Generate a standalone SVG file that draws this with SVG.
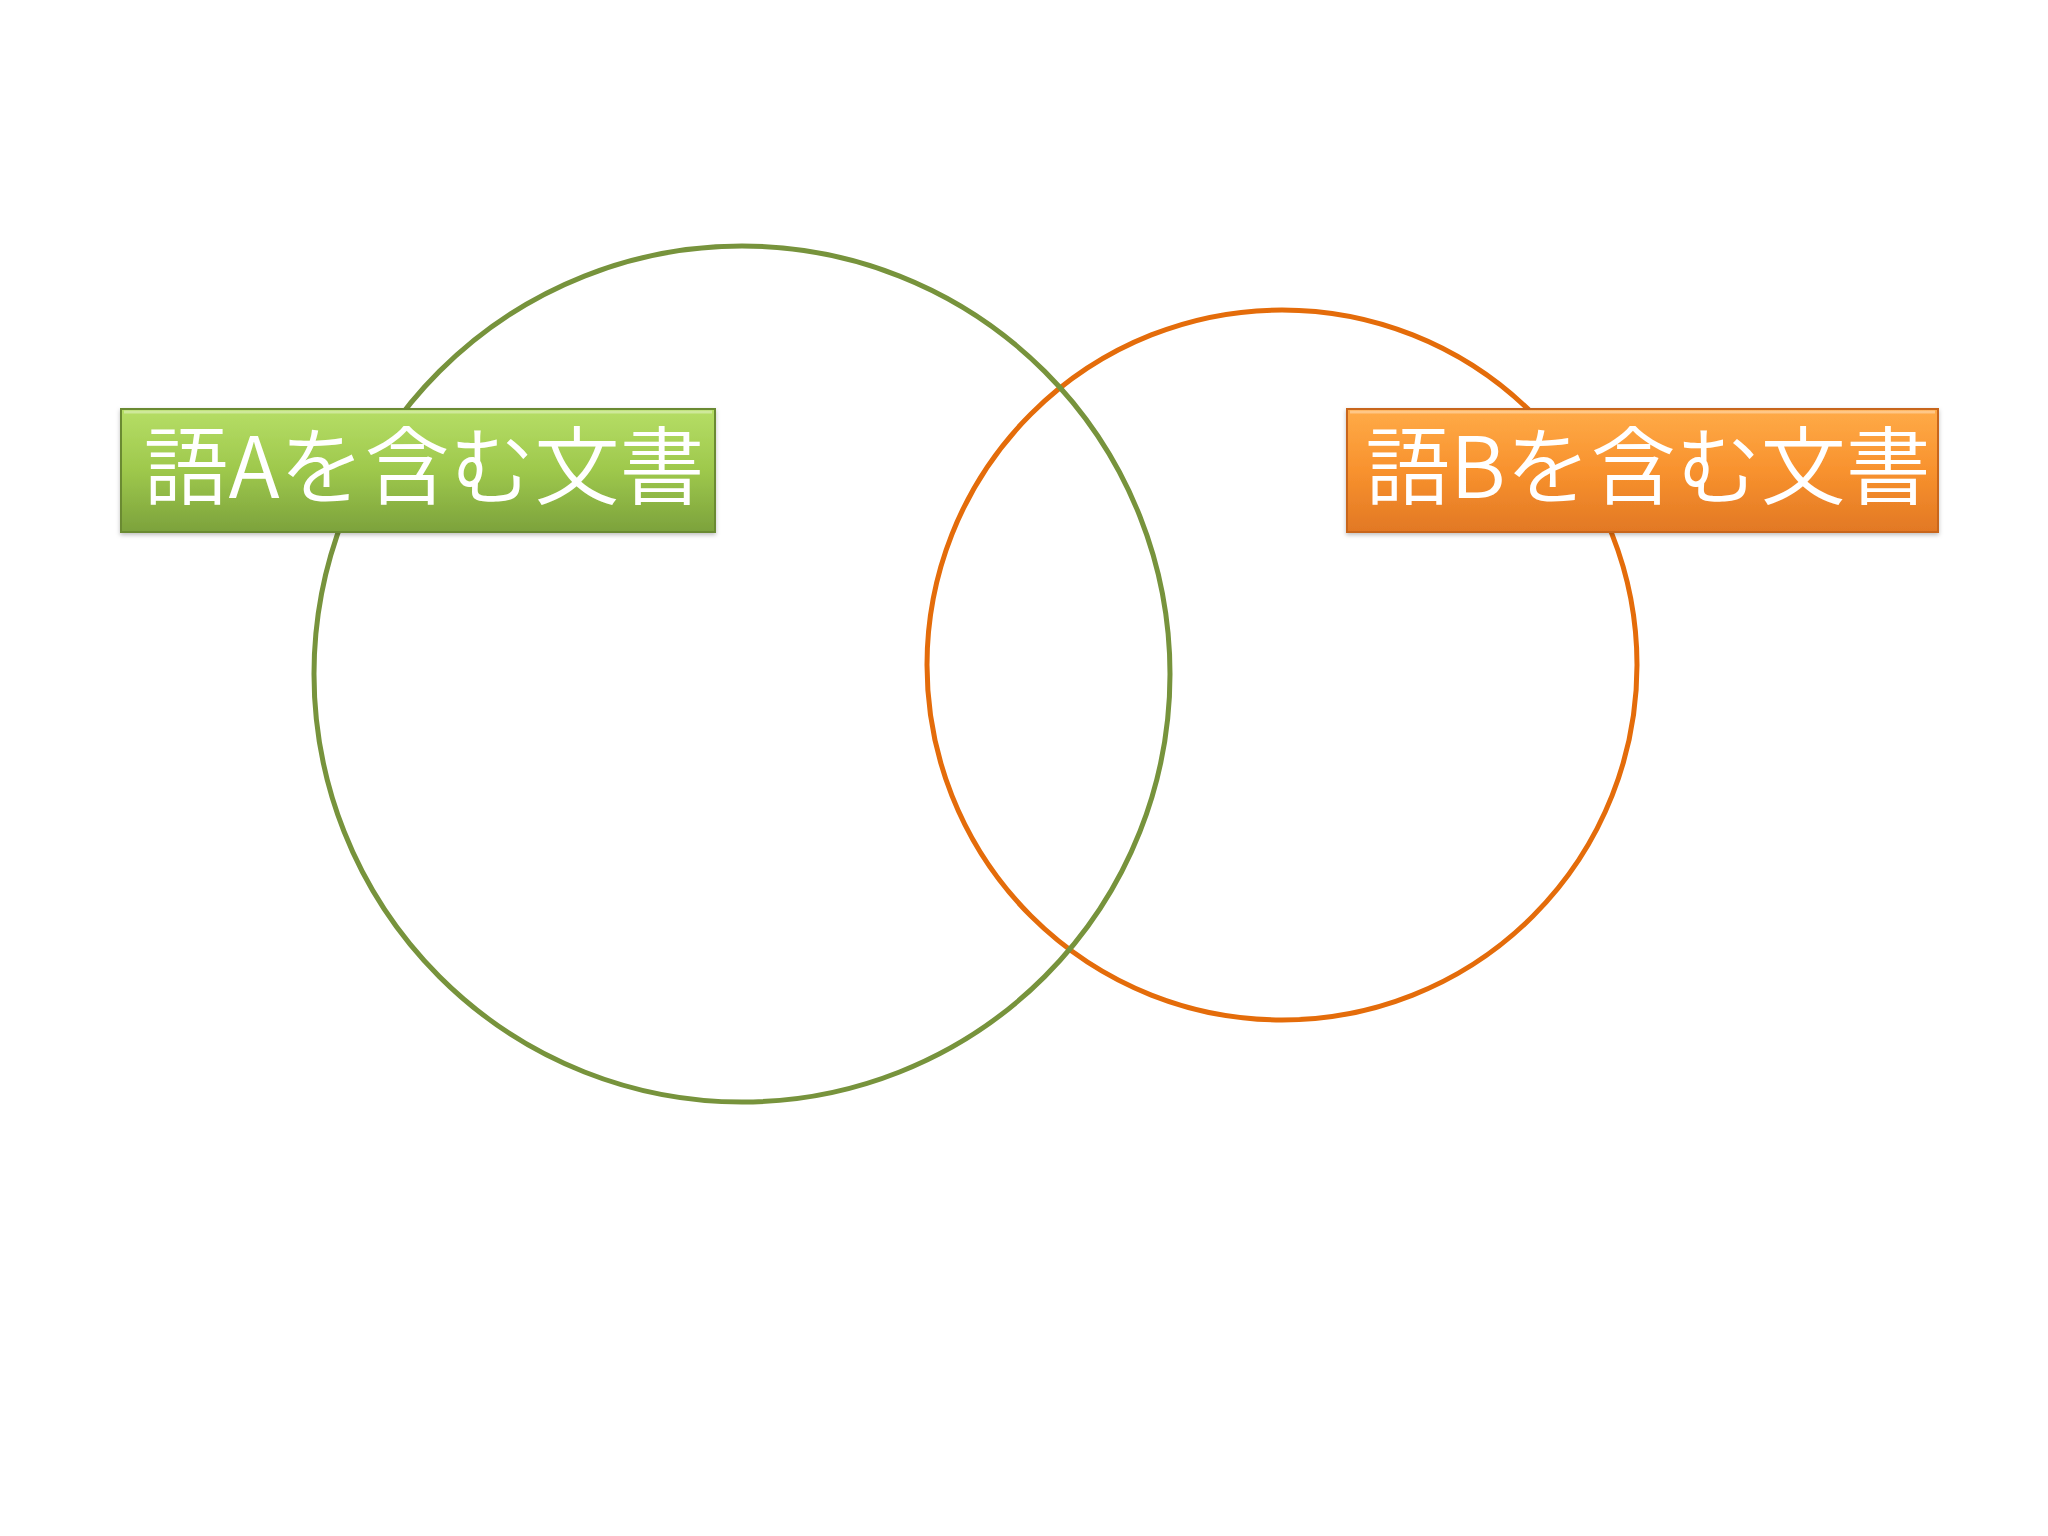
<svg xmlns="http://www.w3.org/2000/svg" width="2048" height="1536" viewBox="0 0 2048 1536">
  <defs>
    <linearGradient id="gGreen" x1="0" y1="0" x2="0" y2="1">
      <stop offset="0" stop-color="#b6de66"/>
      <stop offset="0.5" stop-color="#9ec84c"/>
      <stop offset="1" stop-color="#7ca23c"/>
    </linearGradient>
    <linearGradient id="gOrange" x1="0" y1="0" x2="0" y2="1">
      <stop offset="0" stop-color="#ffab48"/>
      <stop offset="0.5" stop-color="#f8922e"/>
      <stop offset="1" stop-color="#e27824"/>
    </linearGradient>
    <filter id="shadow" x="-5%" y="-10%" width="110%" height="130%">
      <feDropShadow dx="0" dy="2" stdDeviation="2" flood-color="#000" flood-opacity="0.25"/>
    </filter>
    <style>
      .ring { fill: none; stroke-width: 5; }
      .label { font-family: "Noto Sans CJK JP", "Noto Sans", sans-serif; font-weight: 350; font-size: 85px; fill: #ffffff; text-anchor: middle; }
      .bevel { fill: none; stroke: #ffffff; stroke-opacity: 0.35; stroke-width: 3; }
    </style>
  </defs>
  <rect width="2048" height="1536" fill="#ffffff"/>
  <g id="circle-b">
    <circle class="ring" cx="1282" cy="665" r="355" stroke="#e46c0a"/>
  </g>
  <g id="circle-a">
    <circle class="ring" cx="742" cy="674" r="428" stroke="#77933c"/>
  </g>
  <g id="label-a" filter="url(#shadow)">
    <rect x="121" y="409" width="594" height="123" fill="url(#gGreen)" stroke="#6a8a30" stroke-width="2"/>
    <path class="bevel" d="M124 412 H712"/>
    <text class="label" x="424" y="498">語Aを含む文書</text>
  </g>
  <g id="label-b" filter="url(#shadow)">
    <rect x="1347" y="409" width="591" height="123" fill="url(#gOrange)" stroke="#c8661a" stroke-width="2"/>
    <path class="bevel" d="M1350 412 H1935"/>
    <text class="label" x="1648" y="498">語Bを含む文書</text>
  </g>
  <g id="connectors"/>
</svg>
